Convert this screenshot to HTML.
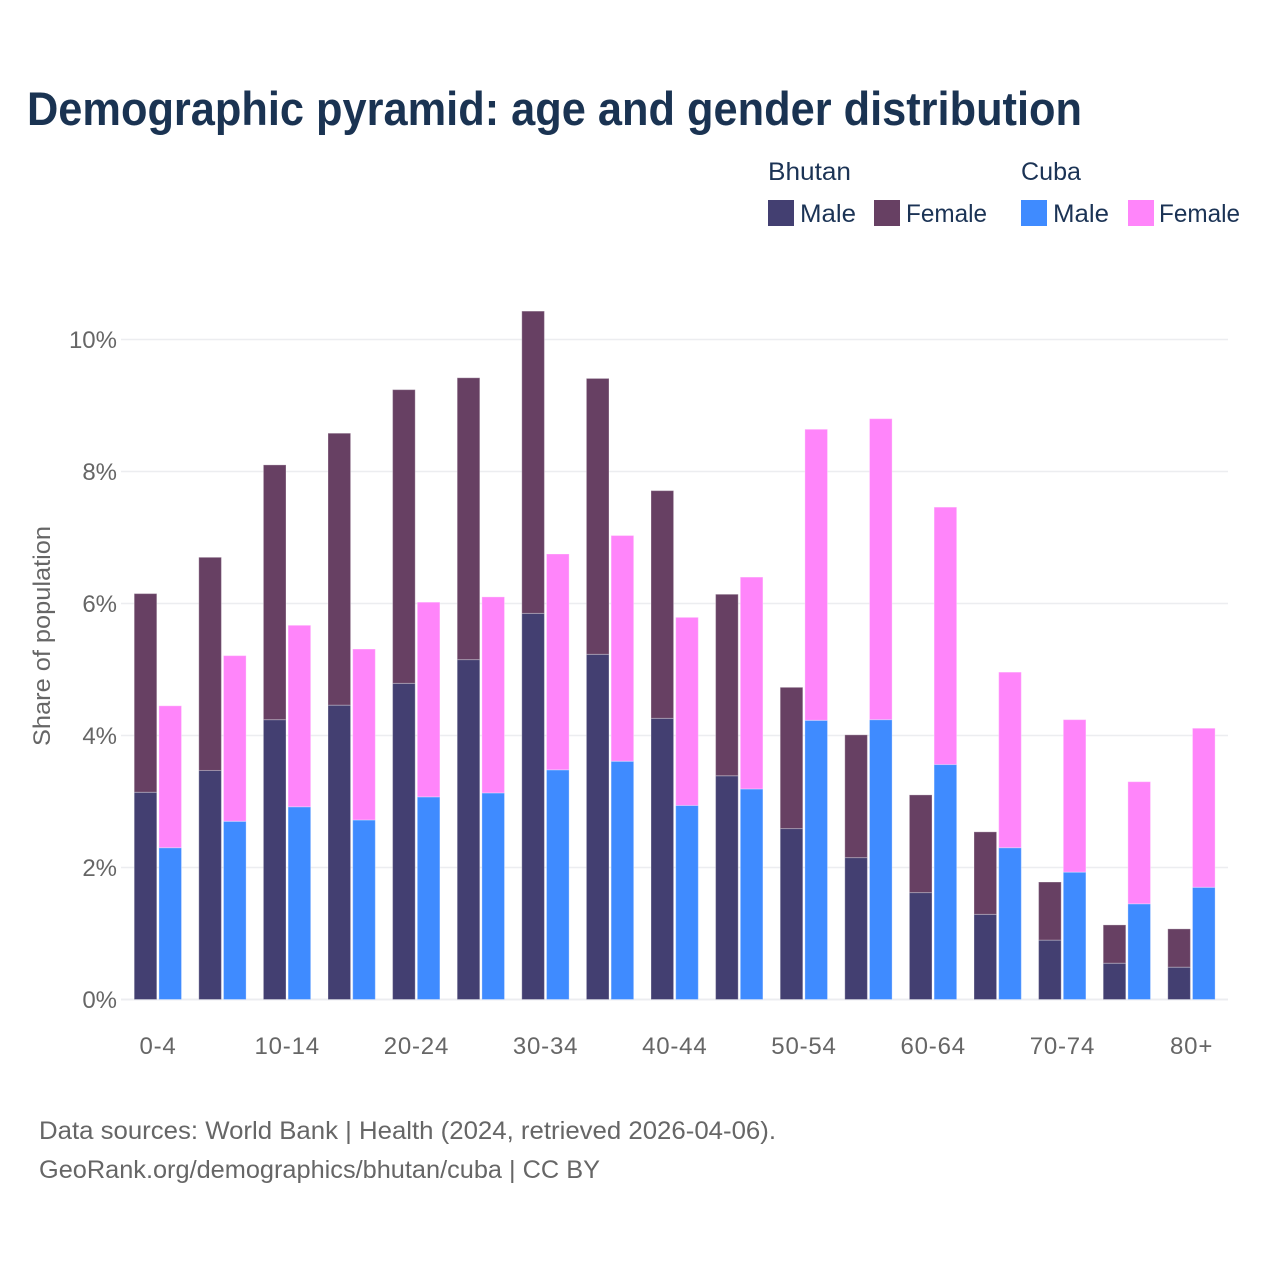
<!DOCTYPE html>
<html lang="en">
<head>
<meta charset="utf-8">
<title>Demographic pyramid</title>
<style>
html,body{margin:0;padding:0;background:#fff}
svg{display:block}
text{font-family:"Liberation Sans",Arial,sans-serif}
.legend{font-size:25px;fill:#1b3355}
.axis{font-size:24px;fill:#666666}
.src{font-size:25px;fill:#666666}
</style>
</head>
<body>
<svg id="chart" xmlns="http://www.w3.org/2000/svg" width="1280" height="1280" viewBox="0 0 1280 1280">
<rect x="0" y="0" width="1280" height="1280" fill="#ffffff"/>
<text x="27" y="125" font-size="47" font-weight="700" fill="#1a3352" textLength="1055" lengthAdjust="spacingAndGlyphs">Demographic pyramid: age and gender distribution</text>
<g>
<text class="legend" x="768" y="180" textLength="83" lengthAdjust="spacingAndGlyphs">Bhutan</text>
<text class="legend" x="1021" y="180" textLength="60" lengthAdjust="spacingAndGlyphs">Cuba</text>
<rect x="768" y="200" width="26" height="26" fill="#433f71"/>
<text class="legend" x="800" y="222" textLength="56" lengthAdjust="spacingAndGlyphs">Male</text>
<rect x="874" y="200" width="26" height="26" fill="#674063"/>
<text class="legend" x="906" y="222" textLength="81" lengthAdjust="spacingAndGlyphs">Female</text>
<rect x="1021" y="200" width="26" height="26" fill="#3f8bff"/>
<text class="legend" x="1053" y="222" textLength="56" lengthAdjust="spacingAndGlyphs">Male</text>
<rect x="1128" y="200" width="26" height="26" fill="#ff85fa"/>
<text class="legend" x="1159" y="222" textLength="81" lengthAdjust="spacingAndGlyphs">Female</text>
</g>
<g id="grid"></g>
<g id="bars"></g>
<g id="yticks"></g>
<g id="xticks"></g>
<text class="axis" transform="translate(50,636) rotate(-90)" text-anchor="middle" textLength="220" lengthAdjust="spacingAndGlyphs">Share of population</text>
<text class="src" x="39" y="1139" textLength="737" lengthAdjust="spacingAndGlyphs">Data sources: World Bank | Health (2024, retrieved 2026-04-06).</text>
<text class="src" x="39" y="1178" textLength="561" lengthAdjust="spacingAndGlyphs">GeoRank.org/demographics/bhutan/cuba | CC BY</text>
</svg>
<script>
const categories = ["0-4","5-9","10-14","15-19","20-24","25-29","30-34","35-39","40-44","45-49","50-54","55-59","60-64","65-69","70-74","75-79","80+"];
const xTickLabels = ["0-4","10-14","20-24","30-34","40-44","50-54","60-64","70-74","80+"];
const yTicks = [0,2,4,6,8,10];
const bhutanMale = [3.14,3.47,4.24,4.46,4.79,5.15,5.85,5.23,4.26,3.39,2.59,2.15,1.62,1.29,0.90,0.55,0.49];
const bhutanFemale = [3.01,3.23,3.86,4.12,4.45,4.27,4.58,4.18,3.45,2.75,2.14,1.86,1.48,1.25,0.88,0.58,0.58];
const cubaMale = [2.30,2.70,2.92,2.72,3.07,3.13,3.48,3.61,2.94,3.19,4.23,4.24,3.56,2.30,1.93,1.45,1.70];
const cubaFemale = [2.15,2.51,2.75,2.59,2.95,2.97,3.27,3.42,2.85,3.21,4.41,4.56,3.90,2.66,2.31,1.85,2.41];

const NS = "http://www.w3.org/2000/svg";
const y = v => 999.5 - v * 66;
const groupCenter = i => 158 + i * 64.6;
const barW = 22.6;

function make(tag, attrs, parent) {
  const el = document.createElementNS(NS, tag);
  for (const k in attrs) el.setAttribute(k, attrs[k]);
  parent.appendChild(el);
  return el;
}

const gridG = document.getElementById("grid");
const yG = document.getElementById("yticks");
yTicks.forEach(t => {
  const line = make("line", {x1:121, x2:1228, y1:y(t), y2:y(t), stroke:"#ecedf0", "stroke-width":t === 0 ? 2 : 1.5}, gridG);
  
  
  const label = make("text", {x:117, y:y(t) + 8.5, "text-anchor":"end", class:"axis"}, yG);
  
  
  label.textContent = t + "%";
});

const xG = document.getElementById("xticks");
xTickLabels.forEach(name => {
  const i = categories.indexOf(name);
  const label = make("text", {x:groupCenter(i), y:1054, "text-anchor":"middle", class:"axis", "letter-spacing":"0.8"}, xG);
  
  
  label.textContent = name;
});

const barsG = document.getElementById("bars");
function drawBar(x, base, value, fill, name) {
  const top = y(base + value);
  const rect = make("rect", {x:x, y:top, width:barW, height:y(base) - top, fill:fill, stroke:"#ffffff", "stroke-opacity":0.3, "stroke-width":1}, barsG);
  
  
}
categories.forEach((c, i) => {
  const cx = groupCenter(i);
  drawBar(cx - 23.8, 0, bhutanMale[i], "#433f71", 'bar-bhutan-male-' + c);
  drawBar(cx - 23.8, bhutanMale[i], bhutanFemale[i], "#674063", 'bar-bhutan-female-' + c);
  drawBar(cx + 0.9, 0, cubaMale[i], "#3f8bff", 'bar-cuba-male-' + c);
  drawBar(cx + 0.9, cubaMale[i], cubaFemale[i], "#ff85fa", 'bar-cuba-female-' + c);
});
</script>
</body>
</html>
